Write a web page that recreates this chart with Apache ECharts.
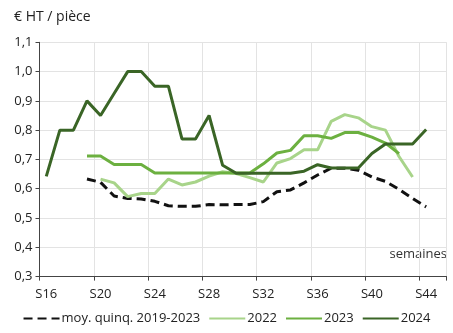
<!DOCTYPE html>
<html><head><meta charset="utf-8">
<script src="https://cdn.jsdelivr.net/npm/echarts@6/dist/echarts.min.js"></script>
<style>html,body{margin:0;padding:0;background:#fff}#c{width:453px;height:333px}</style>
</head><body><div id="c"></div>
<script>
const weeks = ["S16","S17","S18","S19","S20","S21","S22","S23","S24","S25","S26","S27","S28","S29","S30","S31","S32","S33","S34","S35","S36","S37","S38","S39","S40","S41","S42","S43","S44","S45"];
const yTicks = ["0,3","0,4","0,5","0,6","0,7","0,8","0,9","1,0","1,1"];
const moyQuinq = [null,null,null,0.633,0.622,0.575,0.567,0.565,0.557,0.542,0.54,0.54,0.546,0.545,0.546,0.546,0.556,0.59,0.596,0.62,0.647,0.67,0.67,0.663,0.64,0.625,0.598,0.567,0.538,null];
const y2022 = [null,null,null,null,0.633,0.62,0.573,0.584,0.584,0.633,0.613,0.623,0.643,0.658,0.652,0.638,0.623,0.688,0.703,0.733,0.733,0.83,0.853,0.842,0.812,0.8,0.71,0.64,null,null];
const y2023 = [null,null,null,0.712,0.712,0.683,0.683,0.683,0.654,0.654,0.654,0.654,0.654,0.654,0.654,0.654,0.685,0.722,0.731,0.781,0.781,0.772,0.792,0.792,0.776,0.756,0.72,null,null,null];
const y2024 = [0.642,0.8,0.8,0.9,0.85,0.925,1.0,1.0,0.95,0.95,0.77,0.77,0.85,0.68,0.653,0.653,0.653,0.653,0.653,0.66,0.682,0.671,0.671,0.671,0.72,0.753,0.753,0.753,0.802,null];

const font = '"Open Sans", sans-serif';
const chart = echarts.init(document.getElementById('c'), null, {renderer:'canvas'});
chart.setOption({
  animation:false,
  textStyle:{fontFamily:font},
  title:{text:'€ HT / pièce', left:9, top:5, textStyle:{fontFamily:font, fontSize:14, fontWeight:'normal', color:'#222'}},
  graphic:[{type:'text', right:6, top:248, style:{text:'semaines', font:'13px "Open Sans", sans-serif', fill:'#333'}}],
  grid:{left:39.5, right:6.5, top:42.3, bottom:56.4},
  xAxis:{type:'category', data:weeks, boundaryGap:true,
    axisLine:{lineStyle:{color:'#444'}},
    axisTick:{show:true, interval:3, length:4, lineStyle:{color:'#444'}},
    axisLabel:{interval:3, color:'#222', fontSize:13, margin:11, fontFamily:font},
    splitLine:{show:true, interval:3, lineStyle:{color:'#e3e3e3'}}},
  yAxis:{type:'value', min:0.3, max:1.1, interval:0.1,
    axisLine:{show:true, lineStyle:{color:'#444'}},
    axisTick:{show:true, length:4, lineStyle:{color:'#444'}},
    axisLabel:{color:'#222', fontSize:13, margin:7, fontFamily:font,
      formatter:v=>yTicks[Math.round((v-0.3)*10)]},
    splitLine:{show:true, lineStyle:{color:'#e3e3e3'}}},
  legend:{bottom:3, left:'center', itemWidth:36, itemHeight:3, itemGap:8,
    itemStyle:{opacity:0},
    textStyle:{fontSize:13, color:'#222', fontFamily:font, padding:[0,0,0,-3]},
    data:['moy. quinq. 2019-2023','2022','2023','2024']},
  series:[
    {name:'moy. quinq. 2019-2023', type:'line', data:moyQuinq, symbol:'none', lineStyle:{color:'#111', width:3, type:[9,5]}, itemStyle:{color:'#111'}},
    {name:'2022', type:'line', data:y2022, symbol:'none', lineStyle:{color:'#a8d48a', width:3}, itemStyle:{color:'#a8d48a'}},
    {name:'2023', type:'line', data:y2023, symbol:'none', lineStyle:{color:'#6cb040', width:3}, itemStyle:{color:'#6cb040'}},
    {name:'2024', type:'line', data:y2024, symbol:'none', lineStyle:{color:'#3a6526', width:3}, itemStyle:{color:'#3a6526'}}
  ]
});
</script></body></html>
